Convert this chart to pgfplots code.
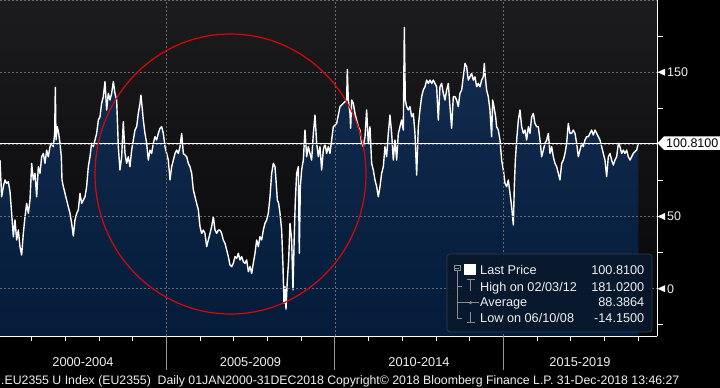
\documentclass[border=0pt]{standalone}
\usepackage{fontspec}
\setmainfont{Liberation Sans}
\usepackage{pgfplots}
\usepackage{pgfplotstable}
\pgfplotsset{compat=1.18}
\definecolor{bgtop}{RGB}{28,28,31}
\definecolor{bgbot}{RGB}{6,6,9}
\definecolor{filltop}{RGB}{20,44,80}
\definecolor{fillbot}{RGB}{4,28,58}
\definecolor{gridc}{RGB}{105,105,110}
\definecolor{circ}{RGB}{214,8,8}
\definecolor{legfill}{RGB}{9,24,44}
\definecolor{legdraw}{RGB}{45,62,85}
\definecolor{icon}{RGB}{140,140,140}
\definecolor{sep}{RGB}{150,150,150}
\definecolor{txt}{RGB}{240,240,240}

\pgfplotstableread{
x y
2000.065 89.1
2000.114 63.7
2000.164 70.7
2000.213 75.3
2000.263 73.0
2000.312 74.1
2000.362 67.2
2000.411 52.2
2000.461 36.0
2000.510 47.6
2000.560 33.7
2000.609 40.6
2000.658 29.1
2000.708 23.3
2000.757 38.3
2000.807 49.9
2000.856 59.1
2000.906 52.2
2000.955 61.4
2001.005 86.8
2001.054 75.3
2001.103 79.9
2001.153 63.7
2001.202 84.5
2001.252 79.9
2001.301 91.4
2001.351 93.7
2001.400 86.8
2001.450 96.0
2001.499 91.4
2001.549 98.4
2001.598 100.7
2001.647 98.4
2001.687 107.6
2001.707 139.5
2001.727 103.0
2001.766 112.2
2001.806 107.6
2001.846 100.7
2001.885 91.4
2001.905 75.3
2001.945 70.7
2001.994 66.0
2002.043 61.4
2002.092 56.8
2002.142 52.2
2002.191 45.3
2002.241 36.5
2002.290 47.6
2002.340 52.2
2002.389 54.5
2002.439 66.0
2002.488 59.1
2002.538 61.4
2002.587 63.7
2002.636 70.7
2002.686 84.5
2002.735 91.4
2002.785 100.7
2002.834 98.4
2002.884 103.0
2002.933 107.6
2002.983 116.8
2003.032 119.1
2003.081 128.4
2003.131 133.0
2003.180 143.4
2003.230 123.8
2003.279 135.3
2003.329 130.7
2003.378 135.3
2003.428 143.4
2003.477 135.3
2003.527 130.7
2003.576 98.4
2003.625 82.2
2003.675 91.4
2003.724 115.7
2003.774 93.7
2003.823 86.8
2003.873 91.4
2003.922 84.5
2003.972 96.0
2004.021 103.0
2004.070 109.9
2004.120 112.2
2004.169 121.4
2004.219 128.4
2004.248 134.1
2004.318 116.8
2004.367 107.6
2004.417 100.7
2004.466 89.1
2004.516 96.0
2004.565 93.7
2004.614 100.7
2004.664 105.3
2004.713 103.0
2004.763 107.6
2004.812 111.1
2004.862 112.2
2004.911 107.6
2004.961 98.4
2005.011 93.7
2005.060 89.1
2005.110 75.3
2005.159 84.5
2005.209 89.1
2005.258 93.7
2005.308 96.0
2005.357 93.7
2005.407 98.4
2005.456 107.6
2005.506 93.7
2005.555 92.6
2005.604 91.4
2005.654 86.8
2005.703 84.5
2005.753 79.9
2005.802 68.4
2005.852 63.7
2005.901 59.1
2005.951 54.5
2006.000 43.0
2006.049 38.3
2006.099 40.6
2006.148 38.3
2006.198 29.1
2006.247 33.7
2006.297 38.3
2006.346 43.0
2006.396 49.9
2006.445 40.6
2006.495 38.3
2006.544 40.6
2006.593 40.6
2006.643 38.3
2006.692 33.7
2006.742 31.4
2006.791 26.8
2006.841 22.2
2006.890 16.4
2006.940 15.3
2006.989 17.6
2007.038 22.2
2007.088 21.0
2007.137 24.5
2007.187 19.9
2007.236 22.2
2007.286 18.7
2007.335 17.6
2007.385 19.9
2007.434 11.8
2007.484 15.3
2007.533 10.6
2007.582 17.6
2007.632 24.5
2007.681 33.7
2007.731 29.1
2007.780 36.0
2007.830 33.7
2007.879 40.6
2007.929 45.3
2007.978 47.6
2008.027 52.2
2008.077 63.7
2008.126 79.9
2008.176 86.8
2008.225 84.5
2008.255 75.3
2008.295 61.4
2008.334 59.1
2008.374 52.2
2008.423 40.6
2008.463 15.3
2008.492 -10.1
2008.522 1.4
2008.552 -14.15
2008.591 6.0
2008.631 19.9
2008.670 45.3
2008.720 33.7
2008.759 -0.9
2008.799 38.3
2008.829 61.4
2008.868 79.9
2008.918 84.5
2008.947 24.5
2008.977 70.7
2009.016 82.2
2009.066 89.1
2009.115 109.9
2009.165 91.4
2009.214 98.4
2009.264 93.7
2009.313 89.1
2009.363 107.6
2009.412 120.3
2009.462 100.7
2009.511 91.4
2009.560 98.4
2009.610 82.2
2009.659 96.0
2009.709 100.7
2009.758 93.7
2009.808 98.4
2009.857 93.7
2009.956 112.2
2010.055 114.5
2010.154 126.1
2010.253 128.4
2010.352 130.7
2010.371 151.9
2010.401 130.7
2010.451 121.4
2010.470 111.1
2010.500 130.7
2010.549 128.4
2010.599 121.4
2010.648 116.8
2010.698 112.2
2010.747 109.9
2010.797 100.7
2010.846 98.4
2010.896 105.3
2010.945 123.8
2010.994 100.7
2011.044 112.2
2011.093 86.8
2011.143 82.2
2011.192 75.3
2011.242 70.7
2011.291 63.7
2011.341 70.7
2011.390 79.9
2011.440 84.5
2011.489 98.4
2011.538 91.4
2011.588 107.6
2011.637 120.3
2011.687 107.6
2011.736 89.1
2011.786 103.0
2011.835 89.1
2011.885 107.6
2011.934 112.2
2011.983 116.8
2012.033 109.9
2012.063 181.02
2012.092 130.7
2012.132 126.1
2012.181 123.8
2012.231 126.1
2012.280 119.1
2012.330 121.4
2012.379 107.6
2012.429 78.7
2012.478 112.2
2012.527 123.8
2012.577 133.0
2012.626 137.6
2012.676 139.9
2012.725 144.5
2012.775 142.2
2012.824 144.5
2012.874 142.2
2012.923 144.5
2012.972 142.2
2013.022 139.9
2013.071 116.8
2013.121 139.9
2013.170 142.2
2013.220 135.3
2013.269 130.7
2013.319 137.6
2013.368 142.2
2013.418 126.1
2013.467 111.1
2013.516 133.0
2013.566 133.0
2013.615 130.7
2013.665 126.1
2013.714 135.3
2013.764 137.6
2013.813 146.8
2013.863 156.1
2013.912 153.8
2013.961 144.5
2014.011 146.8
2014.060 149.1
2014.110 144.5
2014.159 146.8
2014.209 139.9
2014.258 142.2
2014.308 139.9
2014.357 144.5
2014.407 146.8
2014.436 156.1
2014.466 146.8
2014.505 137.6
2014.555 133.0
2014.604 123.8
2014.654 105.3
2014.684 130.7
2014.723 126.1
2014.773 119.1
2014.802 112.2
2014.852 109.9
2014.902 103.0
2014.951 89.1
2015.001 82.2
2015.050 73.0
2015.100 70.7
2015.149 75.3
2015.199 66.0
2015.248 56.8
2015.298 44.1
2015.327 70.7
2015.357 89.1
2015.397 103.0
2015.446 116.8
2015.495 123.8
2015.545 112.2
2015.594 107.6
2015.644 109.9
2015.693 103.0
2015.743 112.2
2015.792 107.6
2015.842 119.1
2015.891 121.4
2015.940 114.5
2015.990 112.2
2016.039 112.2
2016.089 103.0
2016.138 91.4
2016.188 96.0
2016.237 100.7
2016.287 103.0
2016.336 107.6
2016.386 93.7
2016.435 98.4
2016.484 91.4
2016.534 86.8
2016.583 84.5
2016.633 79.9
2016.682 75.3
2016.732 86.8
2016.781 89.1
2016.831 93.7
2016.880 100.7
2016.929 114.5
2016.979 107.6
2017.028 107.6
2017.078 109.9
2017.127 107.6
2017.177 100.7
2017.226 91.4
2017.276 96.0
2017.325 100.7
2017.375 98.4
2017.424 103.0
2017.473 105.3
2017.523 105.3
2017.572 107.6
2017.622 109.9
2017.671 106.4
2017.721 109.9
2017.770 107.6
2017.820 105.3
2017.869 103.0
2017.918 98.4
2017.968 93.7
2018.017 89.1
2018.067 77.6
2018.116 91.4
2018.166 93.7
2018.215 89.1
2018.265 85.7
2018.314 89.1
2018.364 91.4
2018.413 100.7
2018.462 98.4
2018.512 93.7
2018.561 96.0
2018.611 93.7
2018.660 96.0
2018.710 91.4
2018.759 89.1
2018.809 91.4
2018.858 93.7
2018.907 94.9
2018.957 96.0
2019.006 100.81
}\indexdata

\begin{document}
\begin{tikzpicture}
\useasboundingbox (0pt,-52pt) rectangle (720pt,336pt);
\fill[black] (0pt,-52pt) rectangle (720pt,336pt);
\shade[top color=bgtop, bottom color=bgbot] (0pt,0pt) rectangle (657pt,336pt);
\begin{axis}[at={(0pt,0pt)}, anchor=south west, scale only axis,
  width=657pt, height=336pt,
  xmin=2000.065, xmax=2019.561, ymin=-32.8, ymax=200,
  axis line style={draw=none}, tick style={draw=none},
  major tick length=0pt, minor tick length=0pt,
  xtick={2005,2010,2015}, ytick={0,50,100,150,200},
  xticklabels={}, yticklabels={},
  xmajorgrids, ymajorgrids,
  major grid style={gridc, dash pattern=on 2pt off 2pt, line width=0.6pt},
  axis on top]
\addplot[draw=none, top color=filltop, bottom color=fillbot] table[x=x,y=y]{\indexdata}
  -- (axis cs:2019.006,-32.8) -- (axis cs:2000.065,-32.8) -- cycle;
\addplot[white, line width=1.4pt, line join=round] table[x=x,y=y]{\indexdata};
\addplot[white, line width=0.8pt] coordinates {(2000.065,100.81) (2019.561,100.81)};
\end{axis}
\begin{scope}[x=1pt, y=-1pt, shift={(0pt,336pt)}]
  % annotation circle
  \draw[circ, line width=1.2pt] (230.5,174) ellipse [x radius=135.5, y radius=140];
  % axis lines
  \draw[white, line width=0.9pt] (0,336) -- (657,336);
  \draw[white, line width=0.9pt] (657,0) -- (657,336.45);
  % right minor ticks
  \foreach \py in {36.1,108.2,180.4,252.6,324.8}
    \draw[white, line width=0.8pt] (657,\py) -- (663,\py);
  % right major markers
  \foreach \py in {72.2,216.5,288.7}
    \fill[white] (657.5,\py) -- (665,\py-3.5) -- (665,\py+3.5) -- cycle;
  \node[anchor=west, text=txt, font=\fontsize{12.5}{14}\selectfont, inner sep=0] at (667,72.2) {150};
  \node[anchor=west, text=txt, font=\fontsize{12.5}{14}\selectfont, inner sep=0] at (667,216.5) {50};
  \node[anchor=west, text=txt, font=\fontsize{12.5}{14}\selectfont, inner sep=0] at (667,288.7) {0};
  % last price box
  \fill[white] (657.5,143.2) -- (664,136.4) -- (720,136.4) -- (720,150) -- (664,150) -- cycle;
  \node[anchor=west, text=black, font=\fontsize{12.5}{14}\selectfont, inner sep=0] at (666,143.4) {100.8100};
  % bottom ticks
  \foreach \yr in {1,2,3,4,6,7,8,9,11,12,13,14,16,17,18,19}
    \draw[white, line width=0.8pt] ({\yr*33.7-2.2},336) -- ({\yr*33.7-2.2},340.5);
  \foreach \px in {166.3,334.8,503.3}
    \draw[sep, line width=0.9pt] (\px,336) -- (\px,370);
  % x labels
  \node[text=txt, font=\fontsize{12.8}{14}\selectfont, inner sep=0] at (83,362) {2000-2004};
  \node[text=txt, font=\fontsize{12.8}{14}\selectfont, inner sep=0] at (250.5,362) {2005-2009};
  \node[text=txt, font=\fontsize{12.8}{14}\selectfont, inner sep=0] at (419,362) {2010-2014};
  \node[text=txt, font=\fontsize{12.8}{14}\selectfont, inner sep=0] at (580,362) {2015-2019};
  % footer
  \node[anchor=base west, text=txt, font=\fontsize{12.3}{14}\selectfont, inner sep=0] at (1,384.3)
    {.EU2355 U Index (EU2355)\ \ Daily 01JAN2000-31DEC2018 Copyright© 2018 Bloomberg Finance L.P. 31-Dec-2018 13:46:27};
  % legend
  \fill[legfill, opacity=0.92, rounded corners=3pt] (447,254) rectangle (652,332);
  \draw[legdraw, line width=0.7pt, rounded corners=3pt] (447,254) rectangle (652,332);
  \draw[icon, line width=0.6pt] (454.3,265) rectangle (460,270.7);
  \draw[icon, line width=0.6pt] (455.4,267.9) -- (458.9,267.9);
  \draw[icon, line width=0.6pt] (457.2,270.7) -- (457.2,318.7)
     (457.2,286.7) -- (462,286.7) (457.2,302.7) -- (462,302.7) (457.2,318.7) -- (462,318.7);
  \fill[white] (464.3,264) rectangle (475.7,275.5);
  \draw[icon, line width=0.8pt] (466.5,279) -- (474.5,279) (470.5,279) -- (470.5,291);
  \draw[icon, line width=0.8pt] (462,302.7) -- (479,302.7);
  \fill[icon] (470.5,302.7) circle (1.7);
  \draw[icon, line width=0.8pt] (470.5,312) -- (470.5,322.5) (466.5,322.5) -- (474.5,322.5);
  \begin{scope}[every node/.style={text=txt, font=\fontsize{12.7}{14}\selectfont, inner sep=0}]
    \node[anchor=base west] at (480,275) {Last Price};
    \node[anchor=base west] at (480,291) {High on 02/03/12};
    \node[anchor=base west] at (480,307) {Average};
    \node[anchor=base west] at (480,323) {Low on 06/10/08};
    \node[anchor=base east] at (644.5,275) {100.8100};
    \node[anchor=base east] at (644.5,291) {181.0200};
    \node[anchor=base east] at (644.5,307) {88.3864};
    \node[anchor=base east] at (644.5,323) {-14.1500};
  \end{scope}
\end{scope}
\end{tikzpicture}
\end{document}
